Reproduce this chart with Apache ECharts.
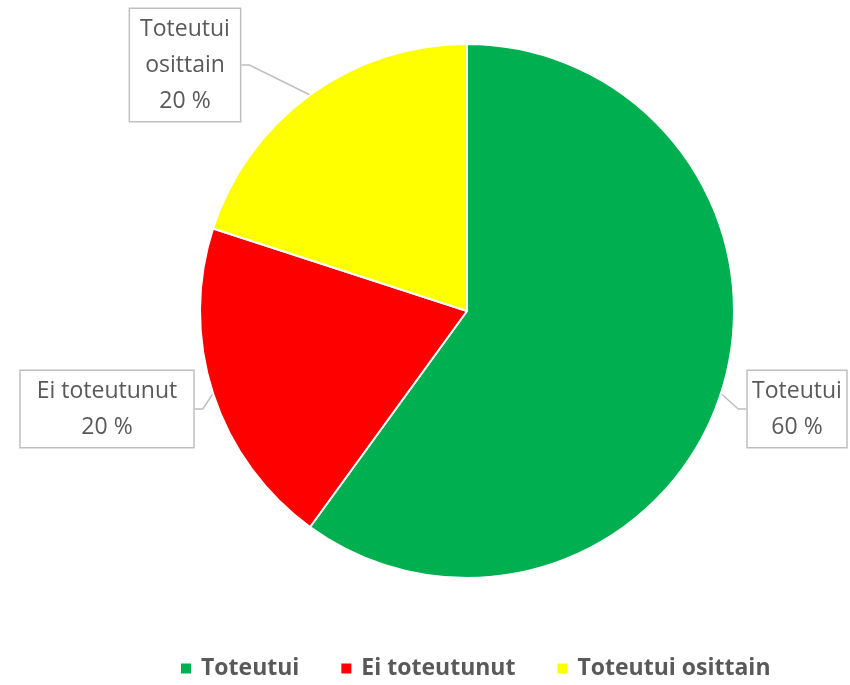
<!DOCTYPE html>
<html>
<head>
<meta charset="utf-8">
<script src="https://cdn.jsdelivr.net/npm/echarts@6/dist/echarts.min.js"></script>
<style>
  html, body { margin: 0; padding: 0; background: #fff; }
  #chart { width: 850px; height: 685px; }
</style>
</head>
<body>
<div id="chart"></div>
<script>
// Data
const categories = ['Toteutui', 'Ei toteutunut', 'Toteutui osittain'];
const values = [60, 20, 20];
const labelTexts = ['Toteutui\n60 %', 'Ei toteutunut\n20 %', 'Toteutui\nosittain\n20 %'];
const colors = ['#00b050', '#ff0000', '#ffff00'];

// where each callout box sits (centre of box) and its side padding
const labelSpots = [
  { x: 797, y: 409, pad: 16 },
  { x: 107, y: 409, pad: 16 },
  { x: 185, y: 65, pad: 10 }
];

const chart = echarts.init(document.getElementById('chart'));

const option = {
  animation: false,
  color: colors,
  legend: {
    bottom: 0,
    left: 174,
    icon: 'rect',
    itemWidth: 12,
    itemHeight: 12,
    itemGap: 40,
    textStyle: {
      fontFamily: 'Open Sans',
      fontSize: 23,
      fontWeight: 'bold',
      color: '#595959',
      padding: [0, 0, 0, 4]
    },
    data: categories
  },
  series: [{
    type: 'pie',
    center: [467, 311],
    radius: [0, 267],
    startAngle: 90,
    clockwise: true,
    itemStyle: {
      borderColor: '#ffffff',
      borderWidth: 2
    },
    label: {
      show: true,
      position: 'outside',
      overflow: 'none',
      fontFamily: 'Open Sans',
      fontSize: 23,
      lineHeight: 36,
      color: '#595959',
      align: 'center',
      backgroundColor: '#ffffff',
      borderColor: '#bfbfbf',
      borderWidth: 1.5
    },
    labelLine: {
      show: true,
      length: 8,
      length2: 8,
      lineStyle: { color: '#bfbfbf', width: 1.5 }
    },
    labelLayout: function (params) {
      const spot = labelSpots[params.dataIndex];
      return {
        x: spot.x,
        y: spot.y,
        align: 'center',
        verticalAlign: 'middle'
      };
    },
    data: categories.map((name, i) => ({
      name: name,
      value: values[i],
      label: {
        formatter: labelTexts[i],
        padding: [2, labelSpots[i].pad]
      }
    }))
  }]
};

chart.setOption(option);
</script>
</body>
</html>
